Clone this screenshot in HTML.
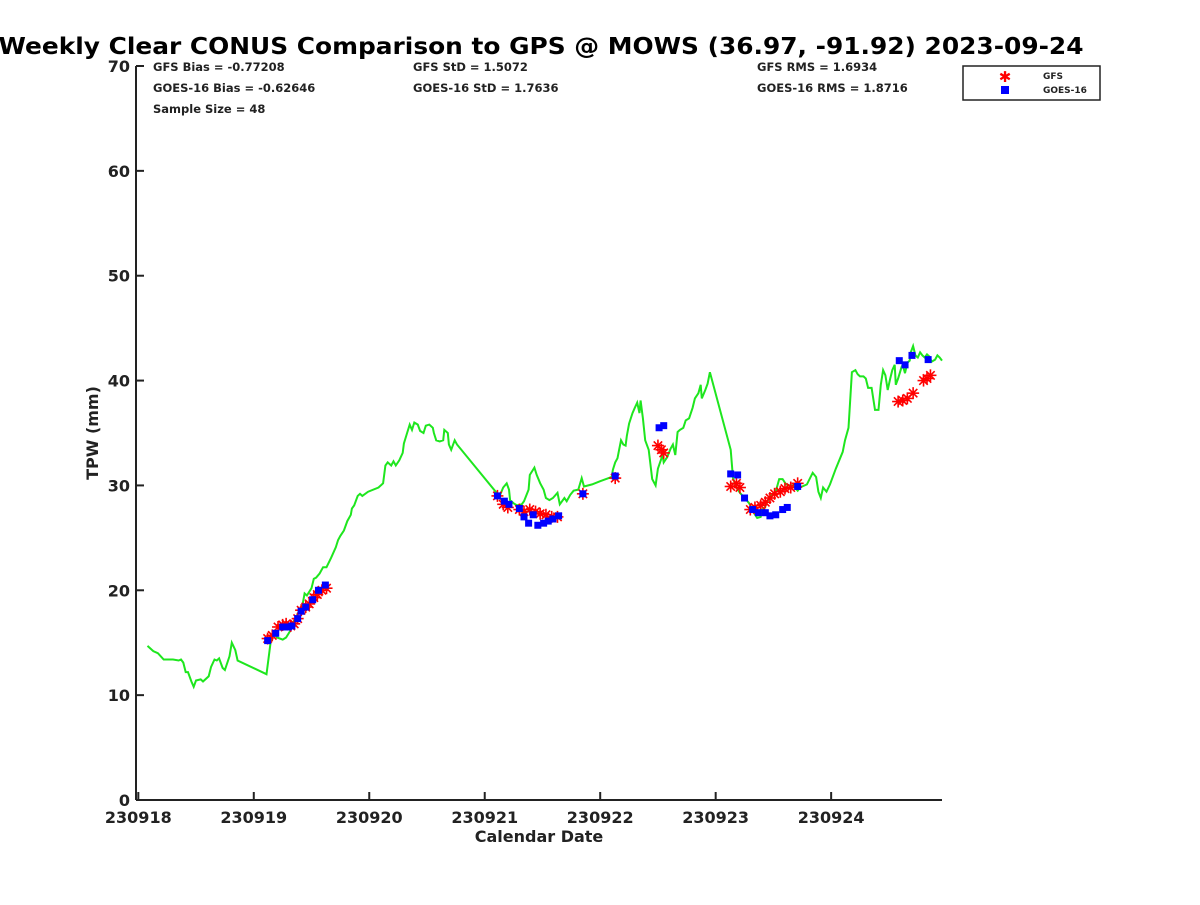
<!DOCTYPE html>
<html><head><meta charset="utf-8"><style>
body{margin:0;background:#fff;}
svg text{font-family:"DejaVu Sans","Liberation Sans",sans-serif;font-weight:bold;fill:#222;}
</style></head><body>
<svg id="chart" width="1200" height="900">
<text x="541" y="54" font-size="23" text-anchor="middle" textLength="1085" lengthAdjust="spacingAndGlyphs" style="fill:#000">Weekly Clear CONUS Comparison to GPS @ MOWS (36.97, -91.92) 2023-09-24</text>
<g font-size="11.5">
<text x="153" y="71">GFS Bias = -0.77208</text>
<text x="153" y="92">GOES-16 Bias = -0.62646</text>
<text x="153" y="113">Sample Size = 48</text>
<text x="413" y="71">GFS StD = 1.5072</text>
<text x="413" y="92">GOES-16 StD = 1.7636</text>
<text x="757" y="71">GFS RMS = 1.6934</text>
<text x="757" y="92">GOES-16 RMS = 1.8716</text>
</g>
<g id="axes"></g>
<g id="plot"></g>
<g>
<rect x="963" y="66" width="137" height="34" fill="#fff" stroke="#222" stroke-width="1.5"/>
<g><text x="1005" y="82" font-size="15" text-anchor="middle" style="fill:#f00">✱</text><text x="1043" y="79" font-size="9">GFS</text></g>
<g><rect x="1001" y="86" width="8" height="8" fill="#00f"/><text x="1043" y="93" font-size="9">GOES-16</text></g>
</g>
<text x="539" y="842" font-size="16" text-anchor="middle">Calendar Date</text>
<text transform="translate(98,433) rotate(-90)" font-size="16" text-anchor="middle">TPW (mm)</text>
</svg>
<script>
const gpsX=[0.08,0.13,0.17,0.22,0.26,0.30,0.35,0.37,0.39,0.41,0.43,0.46,0.48,0.50,0.54,0.56,0.61,0.63,0.66,0.68,0.70,0.73,0.75,0.79,0.81,0.84,0.86,1.11,1.15,1.18,1.20,1.25,1.28,1.32,1.34,1.37,1.39,1.42,1.44,1.46,1.50,1.52,1.54,1.57,1.60,1.63,1.67,1.71,1.73,1.75,1.78,1.81,1.84,1.85,1.87,1.90,1.92,1.94,1.99,2.08,2.12,2.14,2.16,2.19,2.21,2.23,2.26,2.29,2.30,2.33,2.35,2.37,2.39,2.42,2.44,2.47,2.49,2.52,2.55,2.56,2.58,2.61,2.64,2.65,2.68,2.69,2.71,2.74,2.76,3.11,3.13,3.16,3.19,3.21,3.22,3.25,3.28,3.32,3.34,3.38,3.39,3.43,3.45,3.48,3.51,3.53,3.56,3.59,3.63,3.65,3.69,3.71,3.74,3.77,3.81,3.84,3.86,3.93,4.00,4.05,4.10,4.11,4.13,4.15,4.16,4.18,4.20,4.22,4.23,4.25,4.28,4.30,4.32,4.34,4.35,4.37,4.39,4.42,4.45,4.48,4.50,4.54,4.55,4.58,4.61,4.63,4.65,4.67,4.69,4.72,4.74,4.77,4.80,4.82,4.85,4.87,4.88,4.91,4.93,4.95,5.13,5.15,5.18,5.21,5.26,5.29,5.33,5.36,5.39,5.40,5.42,5.45,5.47,5.52,5.55,5.58,5.61,5.64,5.67,5.71,5.73,5.79,5.84,5.87,5.89,5.91,5.93,5.96,5.99,6.04,6.10,6.12,6.15,6.16,6.18,6.21,6.23,6.25,6.28,6.30,6.32,6.35,6.38,6.41,6.43,6.45,6.47,6.49,6.51,6.53,6.55,6.56,6.58,6.61,6.62,6.64,6.66,6.68,6.69,6.71,6.73,6.75,6.77,6.79,6.81,6.83,6.85,6.87,6.90,6.92,6.94,6.96];
const gpsY=[14.7,14.2,14.0,13.4,13.4,13.4,13.3,13.4,13.1,12.2,12.2,11.3,10.8,11.4,11.5,11.3,11.8,12.7,13.4,13.3,13.5,12.6,12.4,13.7,15.0,14.3,13.3,12.0,15.4,15.9,15.5,15.3,15.5,16.2,16.9,17.5,18.0,18.5,19.7,19.5,20.2,21.1,21.2,21.6,22.2,22.2,23.1,24.1,24.8,25.2,25.7,26.6,27.2,27.8,28.1,29.0,29.2,29.0,29.4,29.8,30.2,31.9,32.2,31.9,32.3,31.9,32.4,33.1,34.0,35.1,35.8,35.3,36.0,35.8,35.2,35.0,35.7,35.8,35.5,35.0,34.3,34.2,34.3,35.3,35.0,33.9,33.4,34.3,33.9,29.2,29.0,29.8,30.2,29.6,28.6,28.3,28.1,28.2,28.5,29.6,31.0,31.7,31.0,30.2,29.6,28.8,28.6,28.8,29.3,28.2,28.8,28.5,29.1,29.5,29.6,30.7,29.9,30.1,30.4,30.6,30.8,31.5,32.2,32.6,33.2,34.3,33.9,33.8,34.7,35.9,36.9,37.4,37.9,36.9,38.1,36.4,34.3,33.4,30.6,30.0,31.6,32.9,32.2,32.7,33.5,33.9,32.9,35.1,35.3,35.5,36.2,36.4,37.4,38.3,38.8,39.6,38.3,39.1,39.7,40.8,33.4,30.7,29.8,29.3,28.7,28.3,27.4,26.9,27.0,27.7,27.8,28.5,28.9,29.4,30.6,30.6,30.1,30.0,30.0,29.5,29.8,30.1,31.2,30.8,29.4,28.8,29.8,29.4,30.1,31.6,33.2,34.3,35.5,37.2,40.8,41.0,40.6,40.4,40.4,40.2,39.3,39.3,37.2,37.2,39.6,41.0,40.5,39.1,40.1,41.0,41.5,39.6,40.2,41.3,41.5,40.7,41.7,41.9,42.7,43.3,42.4,42.2,42.7,42.4,42.2,42.5,42.3,41.8,42.0,42.4,42.2,41.9];
const gfsX=[1.12,1.16,1.21,1.25,1.28,1.32,1.35,1.38,1.41,1.45,1.48,1.52,1.55,1.59,1.63,3.11,3.16,3.20,3.30,3.34,3.39,3.44,3.48,3.53,3.58,3.63,3.85,4.13,4.50,4.53,4.55,5.13,5.18,5.21,5.30,5.34,5.39,5.43,5.47,5.51,5.56,5.60,5.65,5.71,6.58,6.62,6.66,6.71,6.80,6.83,6.86];
const gfsY=[15.4,15.7,16.5,16.7,16.8,16.6,16.8,17.3,18.1,18.4,18.7,19.3,19.6,20.0,20.2,29.0,28.2,27.9,27.7,27.5,27.7,27.5,27.3,27.2,27.0,27.0,29.2,30.7,33.8,33.4,33.1,29.9,30.2,29.8,27.7,27.9,28.1,28.4,28.8,29.2,29.4,29.7,29.8,30.2,38.0,38.1,38.3,38.8,40.0,40.2,40.5];
const goesX=[1.12,1.19,1.25,1.30,1.33,1.38,1.41,1.45,1.51,1.56,1.62,3.11,3.17,3.21,3.30,3.34,3.38,3.42,3.46,3.51,3.55,3.59,3.64,3.85,4.13,4.51,4.55,5.13,5.19,5.25,5.32,5.37,5.43,5.47,5.52,5.58,5.62,5.71,6.59,6.64,6.70,6.84];
const goesY=[15.2,15.9,16.5,16.5,16.6,17.3,18.0,18.4,19.1,20.0,20.5,29.0,28.5,28.2,27.8,27.0,26.4,27.2,26.2,26.4,26.6,26.8,27.1,29.2,30.9,35.5,35.7,31.1,31.0,28.8,27.7,27.4,27.4,27.1,27.2,27.7,27.9,29.9,41.9,41.5,42.4,42.0];
const xTicks=[0,1,2,3,4,5,6];
const xTickLabels=["230918","230919","230920","230921","230922","230923","230924"];
const yTicks=[0,10,20,30,40,50,60,70];
const NS="http://www.w3.org/2000/svg";
const X0=136,X1=942,Y0=800,Y1=66,DMIN=-0.02,DMAX=6.96,VMAX=70;
function sx(d){return X0+(d-DMIN)/(DMAX-DMIN)*(X1-X0);}
function sy(v){return Y0-v/VMAX*(Y0-Y1);}
function mk(t,a,p){const e=document.createElementNS(NS,t);for(const k in a)e.setAttribute(k,a[k]);p.appendChild(e);return e;}
const ax=document.getElementById('axes'),pl=document.getElementById('plot');
const yl=mk('line',{x1:X0,y1:Y1,x2:X0,y2:Y0,stroke:'#222','stroke-width':2},ax);


const xl=mk('line',{x1:X0,y1:Y0,x2:X1,y2:Y0,stroke:'#222','stroke-width':2},ax);


yTicks.forEach(v=>{
 const t=mk('line',{x1:X0,y1:sy(v),x2:X0+8,y2:sy(v),stroke:'#222','stroke-width':2},ax);
 
 
 const l=mk('text',{x:X0-6,y:sy(v)+6,'font-size':16,'text-anchor':'end'},ax);l.textContent=v;
 
 
});
xTicks.forEach((d,i)=>{
 const t=mk('line',{x1:sx(d),y1:Y0,x2:sx(d),y2:Y0-8,stroke:'#222','stroke-width':2},ax);
 
 
 const l=mk('text',{x:sx(d),y:Y0+23,'font-size':16,'text-anchor':'middle'},ax);l.textContent=xTickLabels[i];
 
 
});
const line=mk('polyline',{points:gpsX.map((d,i)=>sx(d).toFixed(1)+','+sy(gpsY[i]).toFixed(1)).join(' '),fill:'none',stroke:'#1ee61e','stroke-width':2},pl);


gfsX.forEach((d,i)=>{
 const x=sx(d),y=sy(gfsY[i]),r=6;
 const g=mk('g',{stroke:'#f00','stroke-width':1.6},pl);
 
 
 mk('line',{x1:x-r,y1:y,x2:x+r,y2:y},g);mk('line',{x1:x,y1:y-r,x2:x,y2:y+r},g);
 mk('line',{x1:x-r*.7,y1:y-r*.7,x2:x+r*.7,y2:y+r*.7},g);mk('line',{x1:x-r*.7,y1:y+r*.7,x2:x+r*.7,y2:y-r*.7},g);
});
goesX.forEach((d,i)=>{
 const s=mk('rect',{x:sx(d)-3.5,y:sy(goesY[i])-3.5,width:7,height:7,fill:'#00f'},pl);
 
 
});
</script>
</body></html>
